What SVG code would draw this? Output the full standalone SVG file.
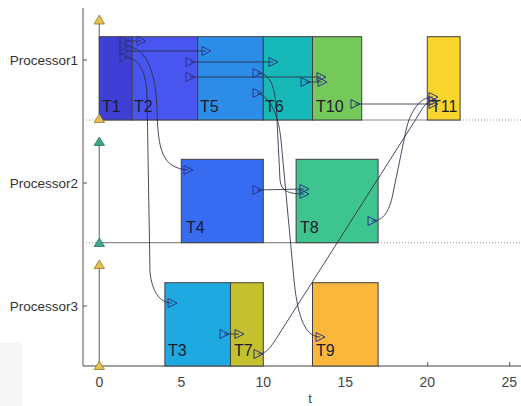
<svg xmlns="http://www.w3.org/2000/svg" width="521" height="406" viewBox="0 0 521 406">
<style>
.bar{stroke:#404040;stroke-width:1}
.lbl{font-family:"Liberation Sans",Arial,sans-serif;font-size:16px;fill:#1c1c2c}
.proc{font-family:"Liberation Sans",Arial,sans-serif;font-size:13.5px;fill:#333;text-anchor:end}
.tick{font-family:"Liberation Sans",Arial,sans-serif;font-size:14px;fill:#444;text-anchor:middle}
.edge{fill:none;stroke:#2a2d45;stroke-width:1;stroke-opacity:0.85;marker-start:url(#tri);marker-end:url(#tri)}
.dot{stroke:#999;stroke-width:1;stroke-dasharray:1 2}
.base{stroke:#8a8a8a;stroke-width:1.2}
.vline{stroke:#8a8a8a;stroke-width:1.4}
.ty{fill:#e6c04e;stroke:#8c7a30;stroke-width:0.8}
.tg{fill:#3aa88a;stroke:#2a6e5c;stroke-width:0.8}
</style>
<defs>
<marker id="tri" viewBox="-6 -6 12 12" markerWidth="12" markerHeight="12" refX="0" refY="0" orient="0" markerUnits="userSpaceOnUse">
<path d="M-4,-4.5 L5,0 L-4,4.5 Z" fill="none" stroke="#2a3590" stroke-width="1"/>
</marker>
</defs>
<rect width="521" height="406" fill="#ffffff"/>
<rect x="0" y="342" width="22" height="64" fill="#f6f6f6"/>

<g id="axes">
<line x1="83" y1="8" x2="83" y2="366" stroke="#555" stroke-width="1"/>
<line x1="83" y1="366" x2="521" y2="366" stroke="#444" stroke-width="1.2"/>
<line x1="83" y1="60" x2="87" y2="60" stroke="#555"/>
<line x1="83" y1="183" x2="87" y2="183" stroke="#555"/>
<line x1="83" y1="306" x2="87" y2="306" stroke="#555"/>
<line x1="427.7" y1="366" x2="427.7" y2="362" stroke="#555"/>
<line x1="509.7" y1="366" x2="509.7" y2="362" stroke="#555"/>
<text class="proc" x="78" y="65">Processor1</text>
<text class="proc" x="78" y="188">Processor2</text>
<text class="proc" x="78" y="311">Processor3</text>
<text class="tick" x="99.3" y="387">0</text>
<text class="tick" x="181.3" y="387">5</text>
<text class="tick" x="263.3" y="387">10</text>
<text class="tick" x="345.3" y="387">15</text>
<text class="tick" x="427.3" y="387">20</text>
<text class="tick" x="509.3" y="387">25</text>
<text class="tick" x="310" y="403" style="font-size:13px">t</text>
</g>

<g id="baselines">
<line class="dot" x1="83" y1="120" x2="99" y2="120"/>
<line class="base" x1="99" y1="120" x2="460" y2="120"/>
<line class="dot" x1="460" y1="120" x2="521" y2="120"/>
<line class="dot" x1="83" y1="242.7" x2="99" y2="242.7"/>
<line class="base" x1="99" y1="242.7" x2="378" y2="242.7"/>
<line class="dot" x1="378" y1="242.7" x2="521" y2="242.7"/>
<line class="vline" x1="99.3" y1="24" x2="99.3" y2="114"/>
<line class="vline" x1="99.3" y1="145" x2="99.3" y2="238"/>
<line class="vline" x1="99.3" y1="268" x2="99.3" y2="362"/>
</g>

<g id="T1"><rect class="bar" x="99.3" y="36.7" width="32.8" height="83.3" fill="#3f3fd6"/><text class="lbl" x="102" y="112">T1</text></g>
<g id="T2"><rect class="bar" x="132.1" y="36.7" width="65.6" height="83.3" fill="#4955ef"/><text class="lbl" x="134" y="112">T2</text></g>
<g id="T5"><rect class="bar" x="197.7" y="36.7" width="65.6" height="83.3" fill="#2c8de8"/><text class="lbl" x="200" y="112">T5</text></g>
<g id="T6"><rect class="bar" x="263.3" y="36.7" width="49.2" height="83.3" fill="#16b8b8"/><text class="lbl" x="265" y="112">T6</text></g>
<g id="T10"><rect class="bar" x="312.5" y="36.7" width="49.2" height="83.3" fill="#74c95a"/><text class="lbl" x="316" y="112">T10</text></g>
<g id="T11"><rect class="bar" x="427.3" y="36.7" width="32.8" height="83.3" fill="#f7d52c"/><text class="lbl" x="431" y="112">T11</text></g>
<g id="T4"><rect class="bar" x="181.3" y="159.3" width="82" height="83.4" fill="#386cf0"/><text class="lbl" x="186" y="233">T4</text></g>
<g id="T8"><rect class="bar" x="296.1" y="159.3" width="82" height="83.4" fill="#3ec48e"/><text class="lbl" x="300" y="233">T8</text></g>
<g id="T3"><rect class="bar" x="164.9" y="282.7" width="65.6" height="83.3" fill="#1eaae0"/><text class="lbl" x="168" y="356">T3</text></g>
<g id="T7"><rect class="bar" x="230.5" y="282.7" width="32.8" height="83.3" fill="#c5c02e"/><text class="lbl" x="234" y="356">T7</text></g>
<g id="T9"><rect class="bar" x="312.5" y="282.7" width="65.6" height="83.3" fill="#fbb63c"/><text class="lbl" x="316" y="356">T9</text></g>

<g id="rowmarkers">
<polygon class="ty" points="99.3,15 104.5,24 94.1,24"/>
<polygon class="ty" points="99.3,114 104.5,122.5 94.1,122.5"/>
<polygon class="tg" points="99.3,137 104.5,145.5 94.1,145.5"/>
<polygon class="tg" points="99.3,238 104.5,246.5 94.1,246.5"/>
<polygon class="ty" points="99.3,260 104.5,268.5 94.1,268.5"/>
<polygon class="ty" points="99.3,361 104.5,369.5 94.1,369.5"/>
</g>

<g id="connectors">
<path class="edge" d="M124,41 L141,41"/>
<path class="edge" d="M124,51 L206,51"/>
<path class="edge" d="M124,46 C150,46 156,80 157,110 C158,150 162,168 188,170"/>
<path class="edge" d="M124,57 C137,57 146,68 147,95 L150,272 C152,292 160,303 172,303"/>
<path class="edge" d="M190,62 L273,62"/>
<path class="edge" d="M190,77 L321,77"/>
<path class="edge" d="M305,82 L322,82"/>
<path class="edge" d="M257,73 C272,73 276,90 277,120 L280,180 C281,192 290,194 304,194"/>
<path class="edge" d="M257,93 C268,96 278,110 281,140 L294,280 C297,310 303,337 320,337"/>
<path class="edge" d="M257,190 L304,189"/>
<path class="edge" d="M355,104 L433,104"/>
<path class="edge" d="M372,221 C382,221 388,214 392,198 L405,135 C409,113 419,97 433,97"/>
<path class="edge" d="M224,334 L239,334"/>
<path class="edge" d="M258,354 C266,354 270,348 276,339 L416,119 C422,109 426,101 433,101"/>
</g>
</svg>
